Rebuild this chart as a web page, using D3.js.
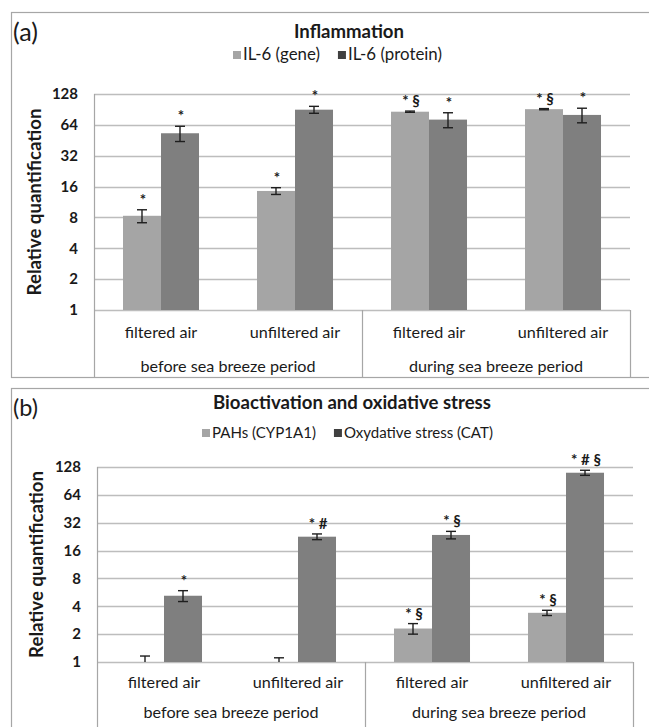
<!DOCTYPE html>
<html>
<head>
<meta charset="utf-8">
<script src="https://cdn.jsdelivr.net/npm/d3@7"></script>
<style>
  html, body { margin: 0; padding: 0; background: #fff; }
  svg { display: block; }
  text { font-family: Lato, "Open Sans", sans-serif; fill: #1a1a1a; }
</style>
</head>
<body>
<svg id="chart" width="649" height="727"></svg>
<script>
// ---------- data ----------
const categories = ["filtered air", "unfiltered air", "filtered air", "unfiltered air"];
const periods = ["before sea breeze period", "during sea breeze period"];
const tickValues = [1, 2, 4, 8, 16, 32, 64, 128];

// panel (a) Inflammation
const aTitle = "Inflammation";
const aSeries = ["IL-6 (gene)", "IL-6 (protein)"];
const aGene = [8.3, 14.5, 86, 91];
const aGeneErr = [1.2, 1.1, 1.2, 1.2];
const aProtein = [53, 90, 72, 80];
const aProteinErr = [9, 7, 12, 13];
const aGeneMarks = ["*", "*", "* §", "* §"];
const aProteinMarks = ["*", "*", "*", "*"];

// panel (b) Bioactivation and oxidative stress
const bTitle = "Bioactivation and oxidative stress";
const bSeries = ["PAHs (CYP1A1)", "Oxydative stress (CAT)"];
const bCyp = [1, 1, 2.3, 3.4];
const bCypErr = [0.16, 0.11, 0.3, 0.22];
const bCat = [5.2, 22.6, 23.6, 111];
const bCatErr = [0.7, 1.6, 2.2, 7];
const bCypMarks = ["", "", "* §", "* §"];
const bCatMarks = ["*", "* #", "* §", "* # §"];

// ---------- drawing ----------
const svg = d3.select("#chart");
const barColors = ["#a5a5a5", "#7f7f7f"];
const swatchColors = ["#a5a5a5", "#404040"];

// size a text so that its rendered width matches the width seen in the reference
function fit(sel, width) {
  const n = sel.node();
  const fs = parseFloat(sel.attr("font-size"));
  const w = n.getComputedTextLength();
  if (w > 0) sel.attr("font-size", (fs * width / w).toFixed(2));
  return sel;
}

function panel(cfg) {
  const g = svg.append("g");
  g.append("rect")
    .attr("x", cfg.frame.x).attr("y", cfg.frame.y)
    .attr("width", cfg.frame.w).attr("height", cfg.frame.h)
    .attr("fill", "none").attr("stroke", "#a6a6a6").attr("stroke-width", 1.2);

  fit(g.append("text").attr("x", 13).attr("y", cfg.letterY)
    .attr("font-size", 21).text(cfg.letter), 25);

  fit(g.append("text").attr("x", cfg.titleX).attr("y", cfg.titleY)
    .attr("text-anchor", "middle").attr("font-size", 17).attr("font-weight", "bold")
    .text(cfg.title), cfg.titleW);

  // legend
  const leg = g.append("g");
  const sw = 8, sgap = 2, egap = 18;
  const legTexts = cfg.series.map((s, i) =>
    leg.append("text").attr("y", cfg.legendY).attr("font-size", 15).text(s));
  const raw = legTexts.reduce((a, t) => a + t.node().getComputedTextLength(), 0);
  const fs = 15 * (cfg.legendW - 2 * (sw + sgap) - egap) / raw;
  let lx = cfg.legendX;
  legTexts.forEach((t, i) => {
    t.attr("font-size", fs.toFixed(2));
    leg.append("rect").attr("x", lx).attr("y", cfg.legendY - 9)
      .attr("width", sw).attr("height", sw).attr("fill", swatchColors[i]);
    t.attr("x", lx + sw + sgap);
    lx += sw + sgap + t.node().getComputedTextLength() + egap;
  });

  const L = cfg.plot.left, R = cfg.plot.right, T = cfg.plot.top, B = cfg.plot.bottom;
  const y = d3.scaleLog().base(2).domain([1, 128]).range([B, T]).clamp(true);
  const x0 = d3.scaleBand().domain(d3.range(categories.length)).range([L, R]).padding(0);
  const x1 = d3.scaleBand().domain([0, 1]).range([0, x0.bandwidth()])
    .paddingInner(0).paddingOuter(0.763);

  g.append("g").selectAll("line").data(tickValues).join("line")
    .attr("x1", L).attr("x2", R)
    .attr("y1", d => Math.round(y(d)) + 0.5).attr("y2", d => Math.round(y(d)) + 0.5)
    .attr("stroke", "#bdbdbd").attr("stroke-width", 1.3);

  const ax = g.append("g").attr("transform", `translate(${L},0)`)
    .call(d3.axisLeft(y).tickValues(tickValues).tickFormat(d3.format("d")).tickSize(0).tickPadding(cfg.tickPad));
  ax.select(".domain").remove();
  ax.selectAll("text").attr("font-size", 15).attr("font-weight", "bold")
    .attr("font-family", "Lato, sans-serif").attr("fill", "#1a1a1a");

  g.append("line").attr("x1", L + 0.5).attr("x2", L + 0.5).attr("y1", T).attr("y2", cfg.boxBottom)
    .attr("stroke", "#a6a6a6").attr("stroke-width", 1.2);
  const mid = x0(2);
  g.append("line").attr("x1", mid + 0.5).attr("x2", mid + 0.5).attr("y1", B).attr("y2", cfg.boxBottom)
    .attr("stroke", "#a6a6a6").attr("stroke-width", 1.2);
  g.append("line").attr("x1", R + 0.5).attr("x2", R + 0.5).attr("y1", B).attr("y2", cfg.boxBottom)
    .attr("stroke", "#a6a6a6").attr("stroke-width", 1.2);

  fit(g.append("text")
    .attr("transform", `translate(${cfg.yLabelX},${(T + B) / 2}) rotate(-90)`)
    .attr("text-anchor", "middle").attr("font-size", 17).attr("font-weight", "bold")
    .text("Relative quantification"), cfg.yLabelW);

  const rows = [];
  categories.forEach((c, i) => {
    [0, 1].forEach(s => {
      rows.push({ i, s, v: cfg.values[s][i], e: cfg.errs[s][i], m: cfg.marks[s][i] });
    });
  });
  const bx = d => x0(d.i) + x1(d.s);
  const bw = x1.bandwidth();
  g.append("g").selectAll("rect").data(rows).join("rect")
    .attr("x", bx).attr("width", bw)
    .attr("y", d => y(d.v)).attr("height", d => B - y(d.v))
    .attr("fill", d => barColors[d.s]);

  const eg = g.append("g").attr("stroke", "#1e1e1e").attr("stroke-width", 1.4);
  rows.forEach(d => {
    const cx = bx(d) + bw / 2;
    const yt = y(d.v + d.e), yb = y(Math.max(1, d.v - d.e));
    eg.append("line").attr("x1", cx).attr("x2", cx).attr("y1", yt).attr("y2", yb);
    eg.append("line").attr("x1", cx - 5).attr("x2", cx + 5).attr("y1", yt).attr("y2", yt);
    if (d.v - d.e > 1)
      eg.append("line").attr("x1", cx - 5).attr("x2", cx + 5).attr("y1", yb).attr("y2", yb);
  });

  g.append("g").selectAll("text").data(rows.filter(d => d.m)).join("text")
    .attr("x", d => bx(d) + bw / 2 + 1)
    .attr("y", d => y(d.v + d.e) - 5)
    .attr("text-anchor", "middle").attr("font-size", 15).attr("font-weight", "bold")
    .text(d => d.m);

  const catLabels = g.append("g").selectAll("text").data(categories).join("text")
    .attr("x", (d, i) => x0(i) + x0.bandwidth() / 2)
    .attr("y", cfg.catY)
    .attr("text-anchor", "middle").attr("font-size", 15).text(d => d);
  const perLabels = g.append("g").selectAll("text").data(periods).join("text")
    .attr("x", (d, i) => x0(i * 2) + x0.bandwidth())
    .attr("y", cfg.periodY)
    .attr("text-anchor", "middle").attr("font-size", 15).text(d => d);
  const w0 = perLabels.node().getComputedTextLength();
  const cfs = (15 * cfg.periodW / w0).toFixed(2);
  catLabels.attr("font-size", cfs);
  perLabels.attr("font-size", cfs);
}

panel({
  frame: { x: 11.5, y: 12.5, w: 700, h: 365 },
  letter: "(a)", letterY: 41,
  title: aTitle, titleX: 349, titleY: 38, titleW: 110,
  series: aSeries, legendX: 233, legendY: 60, legendW: 209,
  plot: { left: 94, right: 630, top: 94, bottom: 310 },
  boxBottom: 377, tickPad: 16, yLabelX: 41, yLabelW: 187,
  values: [aGene, aProtein], errs: [aGeneErr, aProteinErr], marks: [aGeneMarks, aProteinMarks],
  catY: 338, periodY: 372, periodW: 175
});

panel({
  frame: { x: 11.5, y: 388.5, w: 700, h: 400 },
  letter: "(b)", letterY: 416,
  title: bTitle, titleX: 352, titleY: 409, titleW: 278,
  series: bSeries, legendX: 202, legendY: 438, legendW: 291,
  plot: { left: 97, right: 633, top: 467, bottom: 662 },
  boxBottom: 740, tickPad: 16, yLabelX: 43, yLabelW: 187,
  values: [bCyp, bCat], errs: [bCypErr, bCatErr], marks: [bCypMarks, bCatMarks],
  catY: 688, periodY: 718, periodW: 175
});
</script>
</body>
</html>
